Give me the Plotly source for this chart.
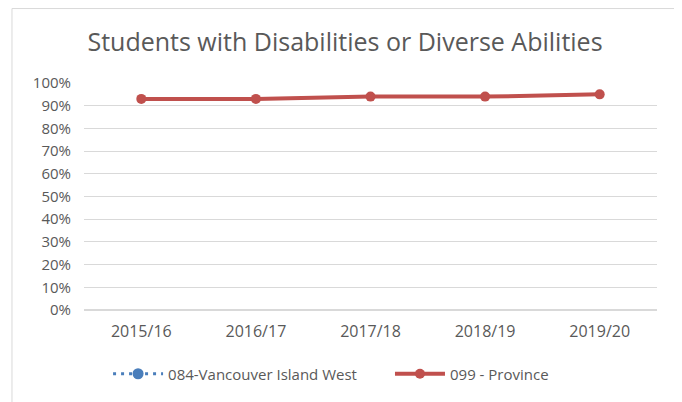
import plotly.graph_objects as go

# Datos
years = ["2015/16", "2016/17", "2017/18", "2018/19", "2019/20"]
vancouver_west = [None, None, None, None, None]
province = [0.93, 0.93, 0.94, 0.94, 0.95]
y_ticks = [0, 0.1, 0.2, 0.3, 0.4, 0.5, 0.6, 0.7, 0.8, 0.9, 1.0]

fig = go.Figure()

fig.add_trace(go.Scatter(
    x=years, y=vancouver_west,
    name="084-Vancouver Island West",
    mode="lines+markers",
    line=dict(color="#4a7ebb", width=3, dash="3px,5px"),
    marker=dict(color="#4a7ebb", size=11),
    legend="legend",
    showlegend=True,
))

fig.add_trace(go.Scatter(
    x=years, y=province,
    name="099 - Province",
    mode="lines+markers",
    line=dict(color="#c0504d", width=4),
    marker=dict(color="#c0504d", size=10),
    legend="legend2",
    showlegend=True,
))

leyenda = dict(
    orientation="h", xanchor="left",
    y=-0.282, yanchor="middle",
    font=dict(size=15, color="#595959"),
    itemwidth=50,
)

# el body de la página añade 8px de margen
fig.update_layout(
    width=674, height=394,
    margin=dict(l=76, r=25, t=75, b=92),
    plot_bgcolor="white",
    paper_bgcolor="white",
    showlegend=True,
    font=dict(family="Open Sans", color="#595959", size=15),
    title=dict(
        text="Students with Disabilities or Diverse Abilities",
        font=dict(size=25, color="#595959"),
        x=0.5, xanchor="center", y=0.914, yanchor="middle",
    ),
    legend=dict(leyenda, x=0.042),
    legend2=dict(leyenda, x=0.534),
    # marco del gráfico
    shapes=[dict(
        type="rect", xref="paper", yref="paper",
        x0=-0.1257, x1=1.0419, y0=-0.45, y1=1.328,
        line=dict(color="#d9d9d9", width=1),
    )],
)

fig.update_xaxes(
    range=[-0.5, 4.5],
    showgrid=False, showline=False, ticks="",
    ticklabelstandoff=10,
    tickfont=dict(size=16, color="#595959"),
)

fig.update_yaxes(
    range=[0, 1], tickvals=y_ticks, tickformat=".0%",
    showgrid=True, gridcolor="#d9d9d9", gridwidth=1,
    zeroline=True, zerolinecolor="#d9d9d9",
    showline=False, ticks="",
    ticklabelstandoff=12,
    tickfont=dict(size=15, color="#595959"),
)

fig.write_html("out.html")
